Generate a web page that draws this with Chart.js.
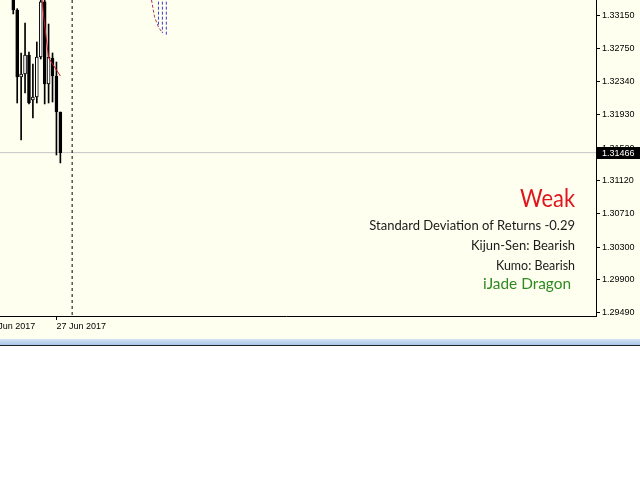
<!DOCTYPE html>
<html><head><meta charset="utf-8">
<script src="https://cdn.jsdelivr.net/npm/chart.js@4.4.0/dist/chart.umd.min.js"></script>
<style>
html,body{margin:0;padding:0;background:#fff;width:640px;height:480px;overflow:hidden;position:relative}
#wrap{position:absolute;left:-24px;top:0;width:664px;height:339px;background:#fffff0}
#band{position:absolute;left:0;top:339px;width:640px;height:6px;background:linear-gradient(#d6e4f4,#a9c5e7)}
#rule{position:absolute;left:0;top:345px;width:640px;height:1px;background:#222}
canvas{display:block}
</style></head><body>
<div id="wrap"><canvas id="c" width="664" height="339"></canvas></div>
<div id="band"></div><div id="rule"></div>
<script>
// ---- data ----
const slots  = [9, 10, 11, 12, 13, 14, 15, 16, 17, 18, 19, 20, 21];
const opens  = [1.33470, 1.33224, 1.32398, 1.32435, 1.32669, 1.32115, 1.32152, 1.32645, 1.33323, 1.32312, 1.32632, 1.32411, 1.31967];
const highs  = [1.33560, 1.33240, 1.32694, 1.33064, 1.32706, 1.32558, 1.32830, 1.33420, 1.33380, 1.33051, 1.32694, 1.32583, 1.31967];
const lows   = [1.33175, 1.32078, 1.31622, 1.32201, 1.32066, 1.31893, 1.32078, 1.32620, 1.32066, 1.32078, 1.32090, 1.31437, 1.31339];
const closes = [1.33224, 1.32398, 1.32435, 1.32669, 1.32078, 1.32152, 1.32645, 1.33323, 1.32312, 1.32645, 1.32411, 1.31967, 1.31466];

const redLineSlots  = [16, 17, 18, 19, 20, 21];
const redLineValues = [1.33507, 1.33039, 1.32632, 1.32558, 1.32485, 1.32411];

const spanSlots  = [44, 45, 46, 47];
const spanValues = [1.33409, 1.33138, 1.33014, 1.32941];
const hatchSlots  = [46, 47, 48];
const hatchTop    = [1.33450, 1.33450, 1.33450];
const hatchBottom = [1.33014, 1.32941, 1.32904];

const separatorSlot = 24;
const currentPrice = 1.31466;

const yTickValues = [1.33150, 1.32750, 1.32340, 1.31930, 1.31520, 1.31120, 1.30710, 1.30300, 1.29900, 1.29490];
const dateTickSlots = [2, 20];
const dateLabels = ['26 Jun 2017', '27 Jun 2017'];

const infoLines = ['Weak', 'Standard Deviation of Returns -0.29', 'Kijun-Sen: Bearish', 'Kumo: Bearish', 'iJade Dragon'];

const yMin = 1.29453, yMax = 1.33347;
const xMin = -0.5, xMax = 157.5;

// ---- datasets ----
const bodies = slots.map((s, i) => ({x: s, y: [opens[i], closes[i]]}));
const wicks  = slots.map((s, i) => ({x: s, y: [lows[i], highs[i]]}));
const bodyFill = slots.map((s, i) => closes[i] >= opens[i] ? '#ffffff' : '#000000');

const hatchSets = hatchSlots.map((s, i) => ({
  type: 'line', data: [{x: s, y: hatchTop[i]}, {x: s, y: hatchBottom[i]}],
  borderColor: '#3a3ad8', borderWidth: 1, borderDash: [3, 2], pointRadius: 0
}));

const lineFont = {family: 'Liberation Sans', size: 9};

const infoPlugin = {
  id: 'info',
  afterDraw(chart) {
    const ctx = chart.ctx, a = chart.chartArea;
    const ys = chart.scales.y;
    const py = ys.getPixelForValue(currentPrice);
    ctx.save();
    ctx.fillStyle = '#000';
    ctx.fillRect(a.right + 1, Math.round(py) - 6, 44, 12);
    ctx.fillStyle = '#fff';
    ctx.font = '9px "Liberation Sans"';
    ctx.textBaseline = 'middle';
    ctx.textAlign = 'left';
    ctx.fillText(currentPrice.toFixed(5), a.right + 6, Math.round(py) + 0.5);
    const R = 599;
    ctx.textAlign = 'right';
    ctx.textBaseline = 'alphabetic';
    const specs = [
      {c: '#e0161e', f: '25px Lato', y: 207, w: 55, r: R},
      {c: '#1a1a1a', f: '13px Lato', y: 230, w: 206, r: R},
      {c: '#1a1a1a', f: '13px Lato', y: 250, w: 104, r: R},
      {c: '#1a1a1a', f: '13px Lato', y: 270, w: 79, r: R},
      {c: '#2f8a22', f: '16px Lato', y: 289, w: 88, r: R - 4}
    ];
    specs.forEach((s, i) => {
      ctx.fillStyle = s.c; ctx.font = s.f;
      ctx.fillText(infoLines[i], s.r, s.y, s.w);
    });
    ctx.restore();
  }
};

new Chart(document.getElementById('c'), {
  type: 'bar',
  data: {
    datasets: [
      {type: 'line', data: redLineSlots.map((s, i) => ({x: s, y: redLineValues[i]})),
       borderColor: '#c8101c', borderWidth: 1, pointRadius: 0, tension: 0},
      {type: 'bar', data: bodies, backgroundColor: bodyFill, borderColor: '#000', borderWidth: 1,
       borderSkipped: false, barThickness: 3, grouped: false},
      {type: 'bar', data: wicks, backgroundColor: '#000', borderWidth: 0, barThickness: 1, grouped: false},
      {type: 'line', data: spanSlots.map((s, i) => ({x: s, y: spanValues[i]})),
       borderColor: '#b03068', borderWidth: 1, borderDash: [3, 2], pointRadius: 0},
      ...hatchSets,
      {type: 'line', data: [{x: separatorSlot, y: yMax}, {x: separatorSlot, y: yMin}],
       borderColor: '#000', borderWidth: 1, borderDash: [3, 3], pointRadius: 0},
      {type: 'line', data: [{x: xMin, y: currentPrice}, {x: xMax, y: currentPrice}],
       borderColor: '#c4c4c4', borderWidth: 1, pointRadius: 0}
    ]
  },
  options: {
    responsive: false, animation: false, devicePixelRatio: 1,
    layout: {padding: 0},
    plugins: {legend: {display: false}, tooltip: {enabled: false}, title: {display: false}},
    scales: {
      x: {
        type: 'linear', min: xMin, max: xMax, offset: false,
        afterBuildTicks: s => { s.ticks = dateTickSlots.map(v => ({value: v})); },
        afterFit: s => { s.height = 23; s.paddingLeft = 0; s.paddingRight = 0; },
        grid: {display: true, drawOnChartArea: false, drawTicks: true, tickLength: 4, color: '#000', offset: false},
        border: {display: true, color: '#000', width: 1},
        ticks: {autoSkip: false, maxRotation: 0, minRotation: 0, align: 'start', padding: 1, color: '#000',
                font: lineFont, callback: (v, i) => dateLabels[i]}
      },
      y: {
        type: 'linear', position: 'right', min: yMin, max: yMax, beginAtZero: false,
        afterBuildTicks: s => { s.ticks = yTickValues.map(v => ({value: v})); },
        afterFit: s => { s.width = 44; s.paddingTop = 0; s.paddingBottom = 0; },
        grid: {display: true, drawOnChartArea: false, drawTicks: true, tickLength: 4, color: '#000'},
        border: {display: true, color: '#000', width: 1},
        ticks: {padding: 2, color: '#000', font: lineFont, callback: v => Number(v).toFixed(5)}
      }
    }
  },
  plugins: [infoPlugin]
});
</script>
</body></html>
